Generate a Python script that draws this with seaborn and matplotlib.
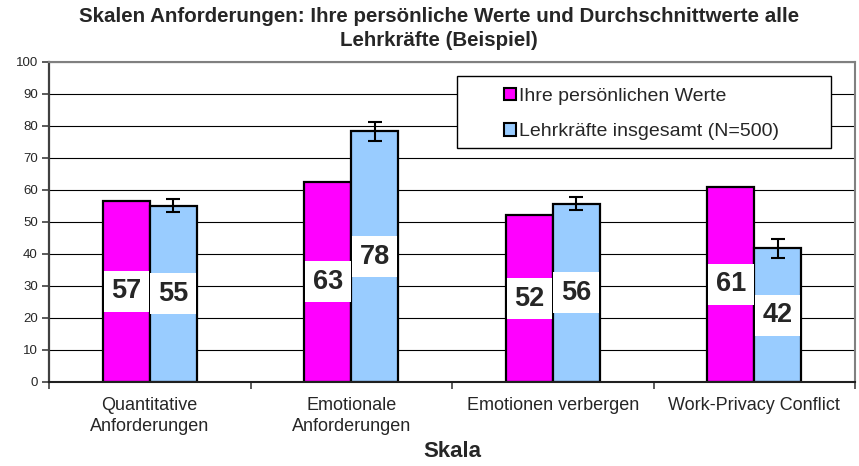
import matplotlib
matplotlib.use("Agg")
import matplotlib.pyplot as plt
from matplotlib.patches import Patch, Rectangle
import pandas as pd
import seaborn as sns

# Daten
categories = ["Quantitative\nAnforderungen", "Emotionale\nAnforderungen",
              "Emotionen verbergen", "Work-Privacy Conflict"]
series = ["Ihre persönlichen Werte", "Lehrkräfte insgesamt (N=500)"]
persoenlich = [56.6, 62.6, 52.1, 61.0]
lehrkraefte = [55.1, 78.4, 55.7, 41.8]
lehrkraefte_err = [2.0, 3.0, 2.0, 3.0]
label_pers = [57, 63, 52, 61]
label_lehr = [55, 78, 56, 42]
colors = ["#FF00FF", "#99CCFF"]

df = pd.DataFrame({
    "Skala": categories * 2,
    "Wert": persoenlich + lehrkraefte,
    "Gruppe": [series[0]] * 4 + [series[1]] * 4,
})

sns.set_style("white")
plt.rcParams["font.family"] = ["Liberation Sans", "DejaVu Sans"]

fig = plt.figure(figsize=(8.59, 4.66), dpi=100)
ax = fig.add_axes([49 / 859, 1 - 382 / 466, 806 / 859, 320 / 466])

sns.barplot(data=df, x="Skala", y="Wert", hue="Gruppe", palette=colors,
            width=0.465, edgecolor="black", linewidth=1.6, saturation=1,
            errorbar=None, legend=False, ax=ax, zorder=2)

# Fehlerbalken und Wertebeschriftungen
bars = sorted(ax.patches, key=lambda p: p.get_x())
pers_bars = bars[0::2]
lehr_bars = bars[1::2]
xs_lehr = [b.get_x() + b.get_width() / 2 for b in lehr_bars]
ax.errorbar(xs_lehr, lehrkraefte, yerr=lehrkraefte_err, fmt="none",
            ecolor="black", elinewidth=1.5, capsize=5, capthick=1.5, zorder=3)

for group, labels in ((pers_bars, label_pers), (lehr_bars, label_lehr)):
    for b, lab in zip(group, labels):
        ax.text(b.get_x() + b.get_width() / 2, b.get_height() / 2, str(lab),
                ha="center", va="center", fontsize=19.5, fontweight="bold",
                bbox=dict(boxstyle="square,pad=0.28", fc="white", ec="none"),
                zorder=4)

# Achsen
ax.set_ylim(0, 100)
ax.set_yticks(range(0, 101, 10))
ax.set_xlim(-0.5, 3.5)
ax.yaxis.grid(True, color="black", linewidth=0.8)
ax.set_axisbelow(True)
ax.tick_params(axis="y", left=True, length=5, width=1.2, direction="out",
               labelsize=9.5, pad=3, color="#404040")
ax.tick_params(axis="x", which="major", length=0, labelsize=13, pad=11)
ax.set_xticks([-0.5, 0.5, 1.5, 2.5, 3.5], minor=True)
ax.tick_params(axis="x", which="minor", bottom=True, length=5, width=1.2,
               direction="out", color="#404040")
for t in ax.get_xticklabels():
    t.set_linespacing(1.25)

for side in ("top", "right"):
    ax.spines[side].set_color("#808080")
    ax.spines[side].set_linewidth(1.5)
ax.spines["left"].set_color("#404040")
ax.spines["left"].set_linewidth(1.6)
ax.spines["bottom"].set_color("#202020")
ax.spines["bottom"].set_linewidth(1.5)

ax.set_ylabel("")
ax.set_xlabel("Skala", fontsize=16, fontweight="bold", labelpad=5)

# Legende
ax.add_patch(Rectangle((0.506, 0.732), 0.464, 0.224, transform=ax.transAxes,
                       facecolor="white", edgecolor="black", linewidth=1.0,
                       zorder=5))
handles = [Patch(facecolor=c, edgecolor="black", linewidth=1.5) for c in colors]
leg = ax.legend(handles, series, loc="upper left", bbox_to_anchor=(0.565, 0.92),
                frameon=False, fontsize=14, handlelength=0.62, handleheight=0.62,
                handletextpad=0.15, labelspacing=0.95, borderpad=0, borderaxespad=0)
leg.set_zorder(6)

fig.suptitle("Skalen Anforderungen: Ihre persönliche Werte und Durchschnittwerte alle\n"
             "Lehrkräfte (Beispiel)", x=0.511, y=1 - 7 / 466, va="top",
             fontsize=14.8, fontweight="bold", linespacing=1.3)

fig.savefig("out.png", dpi=100)
plt.close(fig)
